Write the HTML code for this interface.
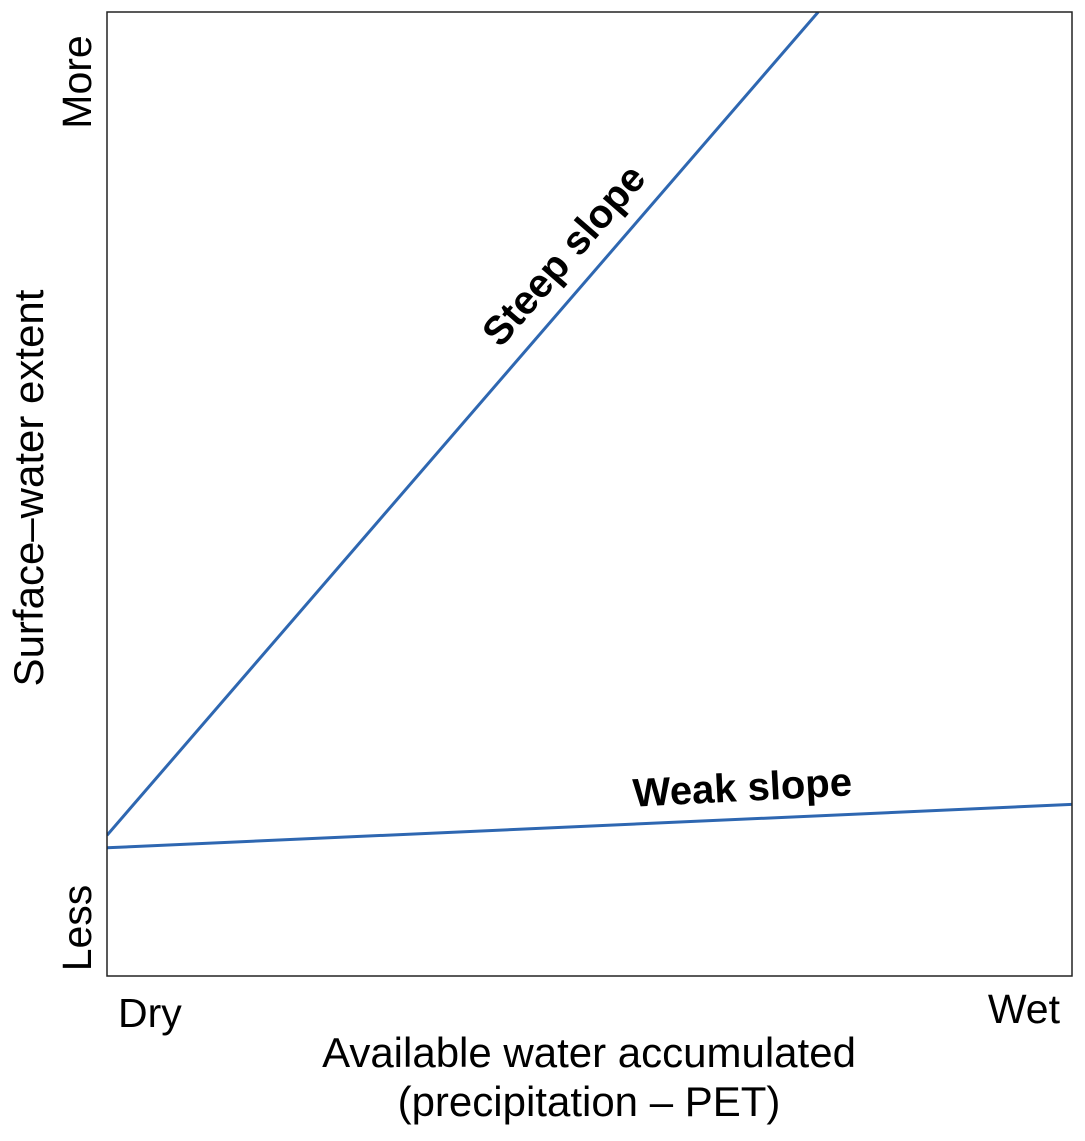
<!DOCTYPE html>
<html><head><meta charset="utf-8"><style>
html,body{margin:0;padding:0;background:#fff;}
svg text{font-family:"Liberation Sans",Arial,sans-serif;fill:#000;}
</style></head><body>
<svg width="1085" height="1136" viewBox="0 0 1085 1136">
<defs><clipPath id="pc"><rect x="107" y="12" width="965" height="964"/></clipPath></defs>
<g id="lines" clip-path="url(#pc)"></g>
<rect x="107" y="12" width="965" height="964" fill="none" stroke="#222" stroke-width="1.5"/>
<text x="0" y="0" font-size="41" text-anchor="middle" transform="translate(91,82) rotate(-90)">More</text>
<text x="0" y="0" font-size="41" text-anchor="middle" transform="translate(91,928) rotate(-90)">Less</text>
<text x="0" y="0" font-size="42" text-anchor="middle" transform="translate(43,488) rotate(-90)">Surface–water extent</text>
<text x="118" y="1027" font-size="41">Dry</text>
<text x="1060" y="1023" font-size="41" text-anchor="end">Wet</text>
<text x="589" y="1067" font-size="42" text-anchor="middle">Available water accumulated</text>
<text x="589" y="1116" font-size="42" text-anchor="middle">(precipitation – PET)</text>
<text x="0" y="0" font-size="40" font-weight="bold" text-anchor="middle" transform="translate(574,264) rotate(-49)">Steep slope</text>
<text x="0" y="0" font-size="40" font-weight="bold" text-anchor="middle" transform="translate(743,801) rotate(-3)">Weak slope</text>
</svg>
<script>
const seriesNames = ['steep', 'weak'];
const steepX = [0, 0.737];
const steepY = [0.146, 1.0];
const weakX = [0, 1];
const weakY = [0.133, 0.178];
const xs = v => 107 + v * 965;
const ys = v => 976 - v * 964;
const g = document.getElementById('lines');
function draw(X, Y, name) {
  const l = document.createElementNS('http://www.w3.org/2000/svg', 'polyline');
  l.setAttribute('points', X.map((x, i) => xs(x) + ',' + ys(Y[i])).join(' '));
  l.setAttribute('fill', 'none');
  l.setAttribute('stroke', '#2e67b1');
  l.setAttribute('stroke-width', '3');
  
  
  g.appendChild(l);
}
draw(steepX, steepY, 'steep-slope-line');
draw(weakX, weakY, 'weak-slope-line');
</script>
</body></html>
